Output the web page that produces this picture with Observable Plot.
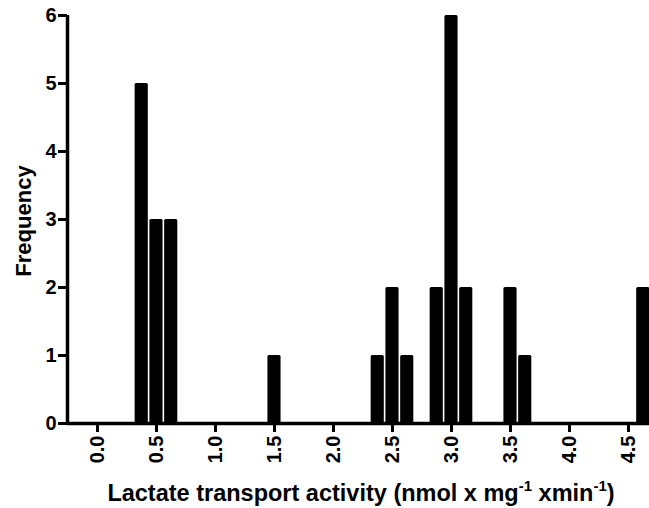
<!DOCTYPE html>
<html><head><meta charset="utf-8">
<script src="https://cdn.jsdelivr.net/npm/d3@7"></script>
<script src="https://cdn.jsdelivr.net/npm/@observablehq/plot@0.6"></script>
<style>body{margin:0;background:#fff}</style>
</head><body><div id="chart"></div>
<script>
// Histogram data
const binCenters = [0.375, 0.5, 0.625, 1.5, 2.375, 2.5, 2.625, 2.875, 3.0, 3.125, 3.5, 3.625, 4.625];
const frequencies = [5, 3, 3, 1, 1, 2, 1, 2, 6, 2, 2, 1, 2];
const binWidth = 0.125;
const xTicks = [0, 0.5, 1, 1.5, 2, 2.5, 3, 3.5, 4, 4.5];
const yTicks = [0, 1, 2, 3, 4, 5, 6];
const xTitle = "Lactate transport activity (nmol x mg";
const yTitle = "Frequency";

const bins = binCenters.map((c, i) => ({x1: c - binWidth / 2, x2: c + binWidth / 2, count: frequencies[i]}));

const font = "'Liberation Sans', Arial, Helvetica, sans-serif";
const chart = Plot.plot({
  width: 649, height: 508,
  marginLeft: 67, marginRight: 0, marginTop: 15, marginBottom: 85,
  x: {domain: [-0.254, 4.678]},
  y: {domain: [0, 6]},
  style: {fontFamily: font, fontWeight: "bold", color: "black", background: "white", overflow: "visible"},
  marks: [
    Plot.rectY(bins, {x1: "x1", x2: "x2", y: "count", fill: "black", insetLeft: 0.8, insetRight: 0.8, rx: 1.5}),
    Plot.axisX({ticks: xTicks, tickFormat: d3.format(".1f"), tickRotate: -90, tickSize: 9, tickPadding: 3, strokeWidth: 3, label: null, fontSize: 20}),
    Plot.axisY({ticks: yTicks, tickFormat: d3.format("d"), tickSize: 9, tickPadding: 2, strokeWidth: 3, label: null, fontSize: 20}),
    Plot.ruleY([0], {strokeWidth: 3.5}),
    Plot.ruleX([-0.254], {y1: 0, y2: 6, strokeWidth: 3.5})
  ]
});
document.getElementById("chart").appendChild(chart);

const svg = d3.select(chart);
const xt = svg.append("text")
  .attr("x", 361).attr("y", 501)
  .attr("text-anchor", "middle")
  .attr("font-size", 23.5).attr("font-weight", "bold").attr("fill", "black")
  .attr("font-family", font);
xt.append("tspan").text(xTitle);
xt.append("tspan").attr("font-size", 15).attr("dy", -10).text("-1");
xt.append("tspan").attr("dy", 10).text(" xmin");
xt.append("tspan").attr("font-size", 15).attr("dy", -10).text("-1");
xt.append("tspan").attr("dy", 10).text(")");

svg.append("text")
  .attr("transform", "translate(31,221) rotate(-90)")
  .attr("text-anchor", "middle")
  .attr("font-size", 22).attr("font-weight", "bold").attr("fill", "black")
  .attr("font-family", font)
  .text(yTitle);
</script>
</body></html>
